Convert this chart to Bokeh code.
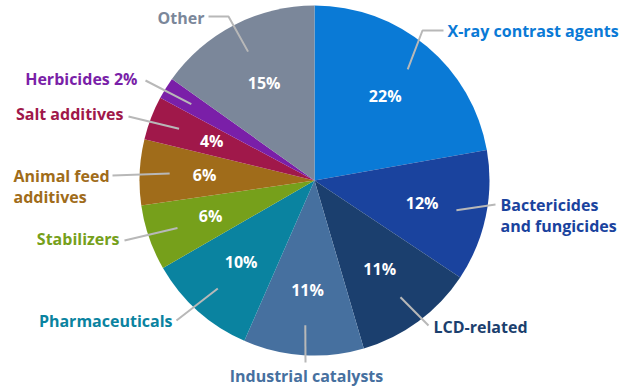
import math
from bokeh.plotting import figure
from bokeh.models import Range1d
from bokeh.core.properties import value
from bokeh.embed import file_html
from bokeh.resources import INLINE

# ---- data ----
categories = ["X-ray contrast agents", "Bactericides and fungicides", "LCD-related",
              "Industrial catalysts", "Pharmaceuticals", "Stabilizers",
              "Animal feed additives", "Salt additives", "Herbicides", "Other"]
shares = [22, 12, 11, 11, 10, 6, 6, 4, 2, 15]
inner_labels = ["22%", "12%", "11%", "11%", "10%", "6%", "6%", "4%", "", "15%"]
outer_labels = [["X-ray contrast agents"], ["Bactericides", "and fungicides"], ["LCD-related"],
                ["Industrial catalysts"], ["Pharmaceuticals"], ["Stabilizers"],
                ["Animal feed", "additives"], ["Salt additives"], ["Herbicides 2%"], ["Other"]]
colors = ["#0a7ad6", "#1a439e", "#1b3f6e", "#46709f", "#0a83a0", "#76a01b",
          "#a06c1a", "#a0184a", "#7a1fa8", "#7b879a"]

# ---- layout (pixel coordinates of the picture) ----
W, H = 630, 390
CX, CY, R = 314, 180, 175
LABEL_R = 110
LEADER_R = 145
# per label: extra leader points, text anchor x, first line y, alignment
label_layout = [
    ([(422, 30), (443, 30)], 447, 30, "left"),
    ([(495, 204)], 500, 204, "left"),
    ([(428, 325)], 433, 326, "left"),
    ([(305, 362)], 306, 375, "center"),
    ([(176, 320)], 172, 320, "right"),
    ([(124, 240)], 119, 238, "right"),
    ([(112, 175)], 13, 175, "left"),
    ([(128, 116)], 123, 113, "right"),
    ([(145, 80)], 137, 78, "right"),
    ([(228, 16), (208, 16)], 204, 17, "right"),
]


def Y(sy):
    return H - sy


p = figure(width=W, height=H, output_backend="svg", toolbar_location=None,
           x_range=Range1d(0, W), y_range=Range1d(0, H), min_border=0)
p.axis.visible = False
p.grid.visible = False
p.outline_line_color = None
p.background_fill_color = "white"
p.border_fill_color = "white"

total = sum(shares)
cum = 0.0
starts, ends, mids = [], [], []
for s in shares:
    f0 = cum / total
    cum += s
    f1 = cum / total
    starts.append(math.pi / 2 - 2 * math.pi * f1)
    ends.append(math.pi / 2 - 2 * math.pi * f0)
    mids.append(2 * math.pi * (f0 + f1) / 2)  # clockwise from top

p.wedge(x=CX, y=Y(CY), radius=R, start_angle=starts, end_angle=ends,
        direction="anticlock", fill_color=colors, line_color=None)

font = value("Open Sans")

# inner percentage labels
ix, iy, it = [], [], []
for m, t in zip(mids, inner_labels):
    if not t:
        continue
    ix.append(CX + LABEL_R * math.sin(m))
    iy.append(Y(CY - LABEL_R * math.cos(m)))
    it.append(t)
p.text(x=ix, y=iy, text=it, text_align="center", text_baseline="middle",
       text_font=font, text_font_style="bold", text_font_size="16px", text_color="white")

# leader lines and outer labels
for m, lines, col, (pts, tx, ty, align) in zip(mids, outer_labels, colors, label_layout):
    sx = CX + LEADER_R * math.sin(m)
    sy = CY - LEADER_R * math.cos(m)
    xs = [sx] + [q[0] for q in pts]
    ys = [Y(sy)] + [Y(q[1]) for q in pts]
    p.line(xs, ys, line_color="#b8b8b8", line_width=2)
    p.text(x=[tx] * len(lines), y=[Y(ty + 21 * i) for i in range(len(lines))], text=lines,
           text_align=align, text_baseline="middle", text_font=font,
           text_font_style="bold", text_font_size="16px", text_color=col)

open("out.html", "w").write(file_html(p, INLINE))
